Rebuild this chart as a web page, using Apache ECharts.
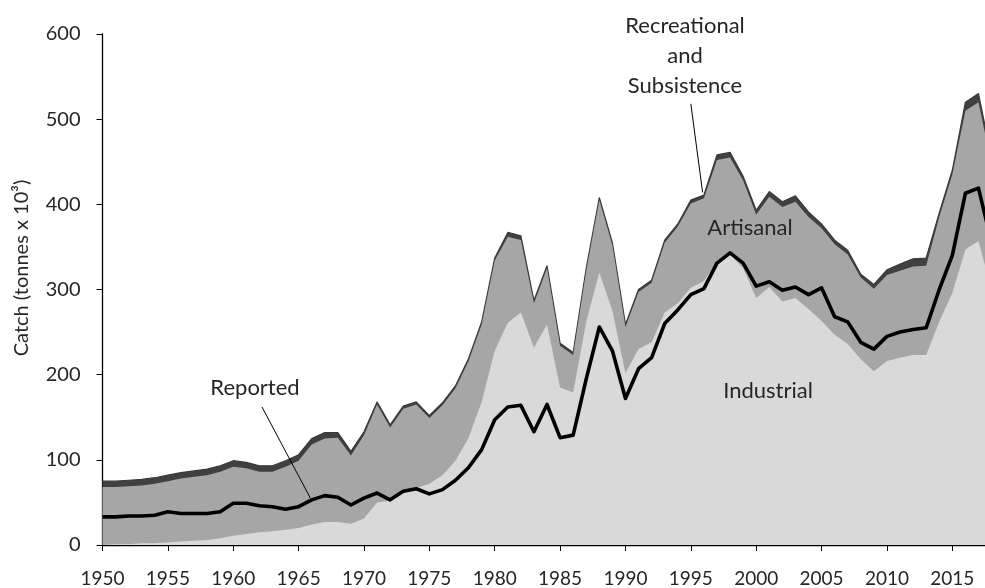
<!DOCTYPE html>
<html><head><meta charset="utf-8">
<script src="https://cdn.jsdelivr.net/npm/echarts@6/dist/echarts.min.js"></script>
<style>html,body{margin:0;padding:0;background:#fff}#c{width:985px;height:588px}</style>
</head><body><div id="c"></div>
<script>
const years = [];
for (let y = 1950; y <= 2018; y++) years.push(y);

const industrial = [0,1,1,2,2,3,4,5,6,8,11,13,15,16,18,20,24,27,27,25,31,50,52,63,67,72,82,99,126,168,
  228,261,273,232,259,185,179,262,320,275,202,230,238,273,284,302,310,333,341,325,
  290,303,286,290,277,263,247,236,218,204,216,220,223,223,262,296,347,357,300];
const artisanal = [68,67,68,68,70,72,74,75,76,78,81,77,71,70,74,79,94,98,99,80,98,115,86,97,98,77,82,85,90,91,
  106,101,85,52,66,49,44,60,85,77,54,67,70,82,90,99,97,119,114,103,
  98,106,111,113,108,109,106,105,96,97,101,102,104,105,123,139,163,163,147];
const recreational = [7,7,7,7,7,7,7,7,7,7,7,7,7,7,7,7,7,7,6,5,4,3,3,3,3,3,3,3,3,3,
  3,5,5,3,3,3,3,3,3,3,3,3,3,3,3,4,4,6,6,5,
  5,6,6,7,6,5,5,5,4,5,6,8,9,9,5,5,10,10,8];
const reported = [33,33,34,34,35,39,37,37,37,39,49,49,46,45,42,45,53,58,56,47,55,61,53,63,66,60,65,76,91,112,
  147,162,164,133,165,126,129,195,256,228,172,207,220,260,276,294,301,331,343,331,
  304,309,299,303,294,302,268,262,238,230,245,250,253,255,300,340,413,419,355];
const yTicks = [0,100,200,300,400,500,600];

// cumulative tops of the stacked bands
const topIndustrial = industrial.slice();
const topArtisanal = industrial.map((v, i) => v + artisanal[i]);
const topTotal = topArtisanal.map((v, i) => v + recreational[i]);
const pairs = arr => arr.map((v, i) => [years[i], v]);

const FONT = 'Lato';
const TXT = '#262626';
const ANN = '22px Lato';

const chart = echarts.init(document.getElementById('c'), null, {renderer: 'canvas'});
chart.setOption({
  animation: false,
  backgroundColor: '#fff',
  grid: {left: 102.5, right: 0, top: 34, height: 512, containLabel: false},
  xAxis: {
    type: 'value', min: 1950, max: 2017.5, interval: 5,
    axisLine: {show: true, onZero: false, lineStyle: {color: '#000', width: 1.3}},
    axisTick: {show: true, length: 6, lineStyle: {color: '#000'}},
    axisLabel: {color: TXT, fontFamily: FONT, fontSize: 19, margin: 24, showMaxLabel: false,
      formatter: v => (v <= 2015 ? String(v) : '')},
    splitLine: {show: false}
  },
  yAxis: {
    type: 'value', min: 0, max: 600, interval: 100,
    axisLine: {show: true, lineStyle: {color: '#000', width: 1.3}},
    axisTick: {show: true, length: 6, lineStyle: {color: '#000'}},
    axisLabel: {color: TXT, fontFamily: FONT, fontSize: 20, margin: 22,
      customValues: yTicks},
    splitLine: {show: false}
  },
  series: [
    {name: 'Recreational and Subsistence', type: 'line', data: pairs(topTotal), symbol: 'none', clip: true,
      lineStyle: {width: 1.2, color: '#3a3a3a'}, areaStyle: {color: '#404040', opacity: 1}, z: 2},
    {name: 'Artisanal', type: 'line', data: pairs(topArtisanal), symbol: 'none', clip: true,
      lineStyle: {width: 0}, areaStyle: {color: '#a6a6a6', opacity: 1}, z: 3},
    {name: 'Industrial', type: 'line', data: pairs(topIndustrial), symbol: 'none', clip: true,
      lineStyle: {width: 0}, areaStyle: {color: '#d9d9d9', opacity: 1}, z: 4},
    {name: 'Reported', type: 'line', data: pairs(reported), symbol: 'none', clip: true,
      lineStyle: {width: 3.6, color: '#000', join: 'round'}, z: 6,
      markLine: {silent: true, symbol: ['none', 'none'], label: {show: false},
        lineStyle: {color: '#000', width: 1, type: 'solid'},
        data: [
          [{coord: [1962.2, 162]}, {coord: [1965.9, 55]}],
          [{coord: [1995.0, 518]}, {coord: [1995.9, 414]}]
        ]}}
  ],
  graphic: [
    {type: 'text', x: 685, y: 26, style: {text: 'Recreational', font: ANN, fill: TXT, textAlign: 'center', textVerticalAlign: 'middle'}},
    {type: 'text', x: 685, y: 56, style: {text: 'and', font: ANN, fill: TXT, textAlign: 'center', textVerticalAlign: 'middle'}},
    {type: 'text', x: 685, y: 86, style: {text: 'Subsistence', font: ANN, fill: TXT, textAlign: 'center', textVerticalAlign: 'middle'}},
    {type: 'text', x: 750, y: 228, z: 10, style: {text: 'Artisanal', font: ANN, fill: TXT, textAlign: 'center', textVerticalAlign: 'middle'}},
    {type: 'text', x: 255, y: 388, style: {text: 'Reported', font: ANN, fill: TXT, textAlign: 'center', textVerticalAlign: 'middle'}},
    {type: 'text', x: 768, y: 391, z: 10, style: {text: 'Industrial', font: ANN, fill: TXT, textAlign: 'center', textVerticalAlign: 'middle'}},
    {type: 'text', x: 22, y: 268, rotation: Math.PI / 2, style: {text: 'Catch (tonnes x 10³)', font: '20px Lato', fill: TXT, textAlign: 'center', textVerticalAlign: 'middle'}}
  ]
});
</script></body></html>
